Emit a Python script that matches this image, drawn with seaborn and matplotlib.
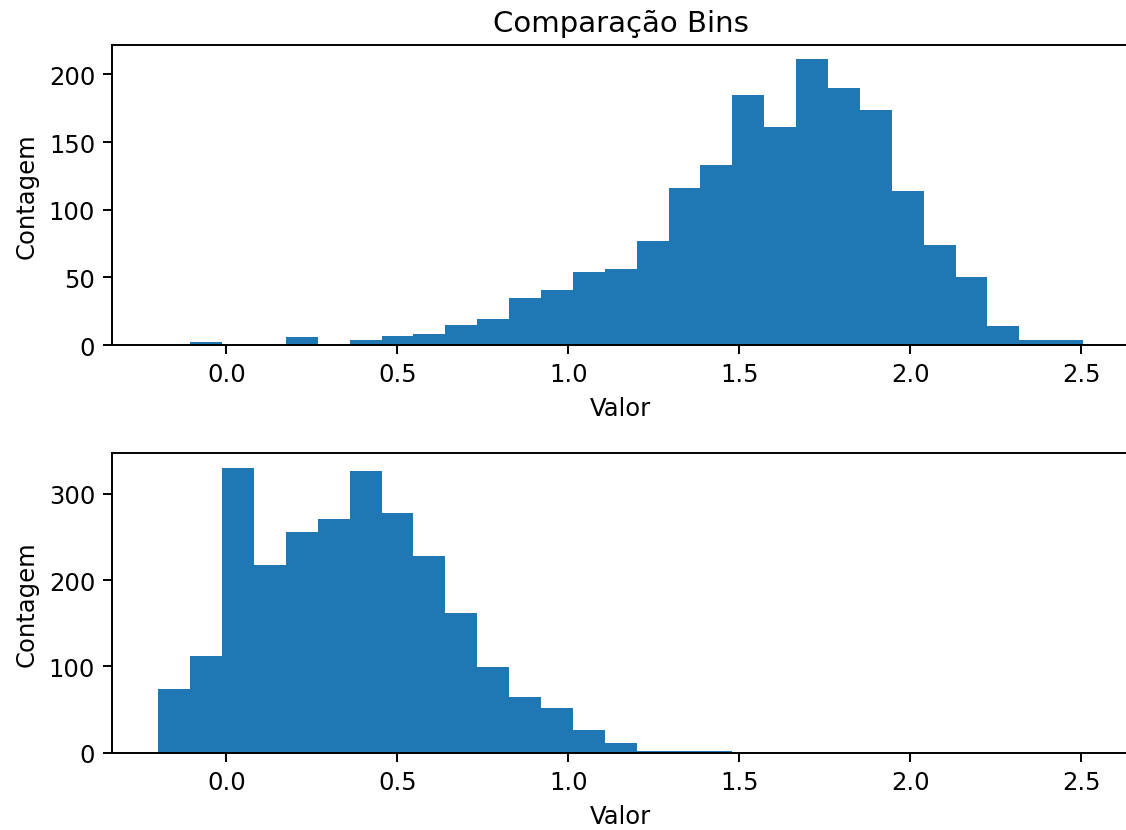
import numpy as np
import pandas as pd
import matplotlib
matplotlib.use("Agg")
import matplotlib.pyplot as plt
import seaborn as sns

# Shared bin layout for both histograms (29 equal-width bins)
bin_lo = -0.199
bin_hi = 2.505
n_bins = 29
bin_edges = np.linspace(bin_lo, bin_hi, n_bins + 1)
bin_centers = (bin_edges[:-1] + bin_edges[1:]) / 2

# Counts per bin, upper panel
counts_top = [0, 2, 0, 0, 6, 0, 4, 7, 8, 15, 19, 35, 41, 54, 56,
              77, 116, 133, 185, 161, 211, 190, 174, 114, 74, 50, 14, 4, 4]

# Counts per bin, lower panel
counts_bottom = [74, 112, 330, 217, 255, 270, 326, 278, 228, 162, 99, 65, 52,
                 27, 12, 2, 2, 2, 0, 0, 0, 0, 0, 0, 0, 0, 0, 0, 0]

title = "Comparação Bins"
xlabel = "Valor"
ylabel = "Contagem"
bar_color = "#1f77b4"

dpi = 175
fig = plt.figure(figsize=(1126 / dpi, 831 / dpi), dpi=dpi)
ax_top = fig.add_axes([0.0996, 0.5836, 0.9034, 0.3608])
ax_bot = fig.add_axes([0.0996, 0.0927, 0.9034, 0.3606])

for ax, counts in ((ax_top, counts_top), (ax_bot, counts_bottom)):
    df = pd.DataFrame({"valor": bin_centers, "n": np.asarray(counts, dtype=float)})
    sns.histplot(data=df, x="valor", weights="n", bins=n_bins,
                 binrange=(bin_lo, bin_hi), ax=ax,
                 color=bar_color, alpha=1.0, linewidth=0, edgecolor="none")
    ax.set_xlabel(xlabel)
    ax.set_ylabel(ylabel)

ax_top.set_title(title)

fig.savefig("out.png", dpi=dpi)
